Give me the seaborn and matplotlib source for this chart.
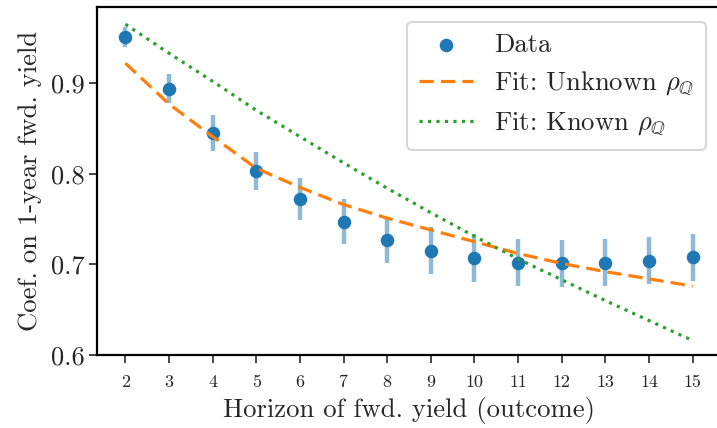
import numpy as np
import pandas as pd
import matplotlib
matplotlib.use("Agg")
import matplotlib.pyplot as plt
import seaborn as sns

horizon = [2, 3, 4, 5, 6, 7, 8, 9, 10, 11, 12, 13, 14, 15]
coef = [0.951, 0.894, 0.845, 0.803, 0.772, 0.747, 0.727, 0.715, 0.707, 0.702, 0.701, 0.702, 0.704, 0.708]
err = [0.011, 0.016, 0.020, 0.021, 0.023, 0.025, 0.025, 0.026, 0.026, 0.026, 0.026, 0.026, 0.026, 0.026]
fit_unknown = [0.922, 0.877, 0.841, 0.806, 0.785, 0.766, 0.751, 0.738, 0.725, 0.712, 0.701, 0.692, 0.684, 0.676]
fit_known = [0.965, 0.933, 0.902, 0.870, 0.841, 0.812, 0.784, 0.757, 0.731, 0.706, 0.683, 0.660, 0.638, 0.616]
yticks = [0.6, 0.7, 0.8, 0.9]

sns.set_style("ticks")
plt.rcParams["font.family"] = ["cmr10", "DejaVu Serif"]
plt.rcParams["mathtext.fontset"] = "cm"
plt.rcParams["axes.formatter.use_mathtext"] = True
plt.rcParams["axes.unicode_minus"] = False

df = pd.DataFrame({"h": horizon, "coef": coef, "err": err,
                   "unk": fit_unknown, "known": fit_known})

blue, orange, green = "#1f77b4", "#ff7f0e", "#2ca02c"

fig = plt.figure(figsize=(7.17, 4.28), dpi=100)
ax = fig.add_axes([97/717, (428-355)/428, 624/717, 348/428])

ax.errorbar(df["h"], df["coef"], yerr=df["err"], fmt="none",
            ecolor=blue, alpha=0.5, elinewidth=3.2, capsize=0, zorder=2)
sns.scatterplot(data=df, x="h", y="coef", ax=ax, color=blue, s=95,
                linewidth=0, zorder=3, label="Data")
sns.lineplot(data=df, x="h", y="unk", ax=ax, color=orange, lw=2.3,
             dashes=False, zorder=4, label=r"Fit: Unknown $\rho_{\mathbb{Q}}$")
ax.lines[-1].set_dashes((4.5, 2.2))
sns.lineplot(data=df, x="h", y="known", ax=ax, color=green, lw=2.3,
             zorder=4, label=r"Fit: Known $\rho_{\mathbb{Q}}$")
ax.lines[-1].set_linestyle(":")

ax.set_xlim(1.35, 15.65)
ax.set_ylim(0.6, 0.984)
ax.set_xticks(horizon)
ax.set_xticklabels([str(h) for h in horizon])
ax.set_yticks(yticks)
ax.set_yticklabels([f"{t:.1f}" for t in yticks])
ax.tick_params(axis="x", labelsize=13, length=6, width=1.2, pad=8)
ax.tick_params(axis="y", labelsize=19, length=6, width=1.2, pad=3)
for s in ax.spines.values():
    s.set_linewidth(1.6)
    s.set_color("black")
ax.set_xlabel("Horizon of fwd. yield (outcome)", fontsize=19.2, labelpad=5)
ax.set_ylabel("Coef. on 1-year fwd. yield", fontsize=19.2, labelpad=6)

leg = ax.legend(loc="upper right", fontsize=19.2, frameon=True, fancybox=True,
                handlelength=2.0, borderpad=0.45, labelspacing=0.47,
                borderaxespad=0.55)
leg.get_frame().set_edgecolor("#cccccc")
leg.get_frame().set_linewidth(1.5)

fig.savefig("out.png", dpi=100)
